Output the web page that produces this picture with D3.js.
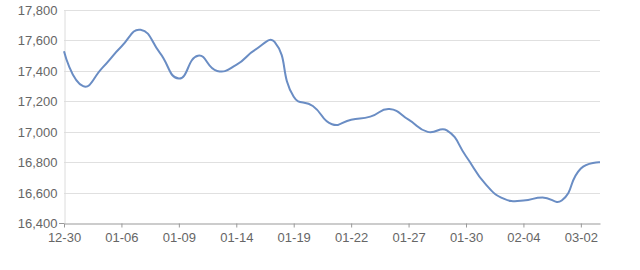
<!DOCTYPE html>
<html>
<head>
<meta charset="utf-8">
<script src="https://cdn.jsdelivr.net/npm/d3@7/dist/d3.min.js"></script>
<style>
  html, body { margin: 0; padding: 0; background: #fff; }
  svg { display: block; }
</style>
</head>
<body>
<svg id="chart" width="640" height="270"></svg>
<script>
const dates = ["12-30","12-31","01-05","01-06","01-07","01-08","01-09","01-12","01-13","01-14",
  "01-15","01-16","01-19","01-20","01-21","01-22","01-23","01-26","01-27","01-28",
  "01-29","01-30","02-02","02-03","02-04","02-05","02-06","03-02","03-03"];
const prices = [17530,17300,17420,17560,17670,17520,17350,17500,17400,17440,
  17540,17590,17230,17170,17050,17080,17100,17150,17080,17000,
  17010,16840,16660,16560,16550,16570,16550,16760,16800];
const yTicks = [16400,16600,16800,17000,17200,17400,17600,17800];
const labelEvery = 3;

const svg = d3.select("#chart");
const m = {left: 64, right: 600, top: 10, bottom: 223.3};
const x = d3.scalePoint().domain(dates).range([m.left, m.right]);
const y = d3.scaleLinear().domain([16400, 17800]).range([m.bottom, m.top]);
const fmt = d3.format(",");
const font = "'Liberation Sans', Arial, sans-serif";

// grid lines
svg.append("g").selectAll("line").data(yTicks.slice(1)).join("line")
  .attr("x1", m.left).attr("x2", m.right)
  .attr("y1", d => Math.round(y(d)) + 0.5).attr("y2", d => Math.round(y(d)) + 0.5)
  .attr("stroke", "#e0e0e0").attr("stroke-width", 1);

// y axis
const yAxis = d3.axisLeft(y).tickValues(yTicks).tickFormat(fmt).tickSize(0).tickPadding(7);
const gy = svg.append("g").attr("transform", `translate(${m.left + 0.5},0)`).call(yAxis);
gy.select(".domain").attr("stroke", "#dcdcdc");
gy.selectAll("text").attr("font-family", font).attr("font-size", 13).attr("fill", "#666");

// small stub at bottom-left
svg.append("line").attr("x1", m.left - 5).attr("x2", m.left)
  .attr("y1", Math.round(y(16400)) + 0.5).attr("y2", Math.round(y(16400)) + 0.5)
  .attr("stroke", "#999");

// x axis
const xAxis = d3.axisBottom(x)
  .tickValues(dates.filter((d, i) => i % labelEvery === 0))
  .tickSizeInner(4).tickSizeOuter(0).tickPadding(5);
const gx = svg.append("g").attr("transform", `translate(0,${Math.round(y(16400)) + 0.5})`).call(xAxis);
gx.select(".domain").attr("stroke", "#999");
gx.selectAll(".tick line").attr("stroke", "#999");
gx.selectAll("text").attr("font-family", font).attr("font-size", 13).attr("fill", "#666");

// ECharts-like smooth curve
function echartsCurve(context) {
  let pts = [];
  return {
    lineStart() { pts = []; },
    lineEnd() {
      const n = pts.length, s = 0.5;
      if (!n) return;
      const cpIn = [], cpOut = [];
      for (let i = 0; i < n; i++) {
        const p = pts[i];
        const prev = i > 0 ? pts[i - 1] : p;
        const next = i < n - 1 ? pts[i + 1] : p;
        const vx = next[0] - prev[0], vy = next[1] - prev[1];
        const l0 = Math.hypot(p[0] - prev[0], p[1] - prev[1]);
        const l1 = Math.hypot(next[0] - p[0], next[1] - p[1]);
        const r = (l0 + l1) ? l1 / (l0 + l1) : 0.5;
        cpOut[i] = [p[0] + vx * s * r, p[1] + vy * s * r];
        cpIn[i] = [p[0] - vx * s * (1 - r), p[1] - vy * s * (1 - r)];
      }
      context.moveTo(pts[0][0], pts[0][1]);
      for (let i = 1; i < n; i++) {
        const a = i - 1 === 0 ? pts[0] : cpOut[i - 1];
        const b = i === n - 1 ? pts[n - 1] : cpIn[i];
        context.bezierCurveTo(a[0], a[1], b[0], b[1], pts[i][0], pts[i][1]);
      }
    },
    areaStart() {}, areaEnd() {},
    point(px, py) { pts.push([+px, +py]); }
  };
}

const line = d3.line()
  .x((d, i) => x(dates[i]))
  .y(d => y(d))
  .curve(echartsCurve);

svg.append("path").datum(prices)
  .attr("d", line)
  .attr("fill", "none")
  .attr("stroke", "#6a8dc4")
  .attr("stroke-width", 2)
  .attr("stroke-linejoin", "round");
</script>
</body>
</html>
